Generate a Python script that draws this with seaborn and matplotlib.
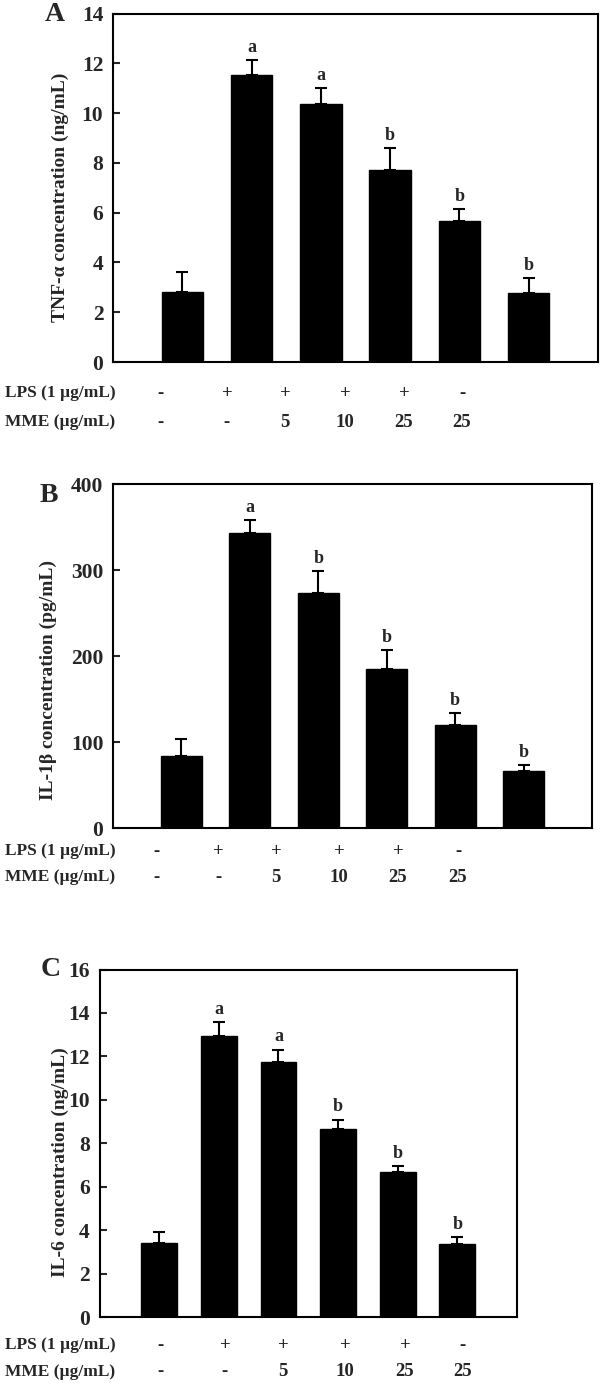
import numpy as np
import pandas as pd
import matplotlib
matplotlib.use("Agg")
import matplotlib.pyplot as plt
import seaborn as sns

sns.set_style("white")
plt.rcParams["font.family"] = ["Liberation Serif", "DejaVu Serif"]
plt.rcParams["font.weight"] = "bold"

# groups (shared by all three panels)
groups = ["G1", "G2", "G3", "G4", "G5", "G6"]
lps_row = ["-", "+", "+", "+", "+", "-"]
mme_row = ["-", "-", "5", "10", "25", "25"]

# panel A: TNF-alpha (ng/mL)
tnf_mean = [2.82, 11.54, 10.37, 7.71, 5.66, 2.76]
tnf_err = [0.78, 0.59, 0.65, 0.90, 0.47, 0.62]
tnf_sig = ["", "a", "a", "b", "b", "b"]

# panel B: IL-1beta (pg/mL)
il1b_mean = [84.4, 343, 273, 185, 120, 66.6]
il1b_err = [19.4, 15.5, 26, 22, 13.6, 7]
il1b_sig = ["", "a", "b", "b", "b", "b"]

# panel C: IL-6 (ng/mL)
il6_mean = [3.41, 12.94, 11.74, 8.68, 6.70, 3.38]
il6_err = [0.50, 0.66, 0.58, 0.42, 0.25, 0.32]
il6_sig = ["", "a", "a", "b", "b", "b"]

W, H = 600, 1395
fig = plt.figure(figsize=(W / 100, H / 100), dpi=100)


def px_axes(left, top, right, bottom):
    return fig.add_axes([left / W, 1 - bottom / H, (right - left) / W, (bottom - top) / H])


def ftext(xpx, ypx, s, **kw):
    return fig.text(xpx / W, 1 - ypx / H, s, fontweight="bold", **kw)


panels = [
    dict(box=(113, 13.5, 598, 362), mean=tnf_mean, err=tnf_err, sig=tnf_sig,
         ymax=14, step=2, ylabel="TNF-α concentration (ng/mL)", letter="A",
         letter_xy=(55, 14.5), ylab_xy=(60, 197.5), rows_y=(393, 422),
         cols_x=[161, 227, 285, 345, 404, 462]),
    dict(box=(113, 484, 592, 828.3), mean=il1b_mean, err=il1b_err, sig=il1b_sig,
         ymax=400, step=100, ylabel="IL-1β concentration (pg/mL)", letter="B",
         letter_xy=(48.5, 495), ylab_xy=(48.5, 679.5), rows_y=(851, 877),
         cols_x=[157, 218, 276, 339, 398, 458]),
    dict(box=(99.5, 969.5, 517, 1317.4), mean=il6_mean, err=il6_err, sig=il6_sig,
         ymax=16, step=2, ylabel="IL-6 concentration (ng/mL)", letter="C",
         letter_xy=(51, 970), ylab_xy=(60.5, 1162.5), rows_y=(1345, 1372),
         cols_x=[161, 225, 283, 345, 405, 463]),
]

for p in panels:
    ax = px_axes(*p["box"])
    df = pd.DataFrame({"group": groups, "value": p["mean"]})
    sns.barplot(data=df, x="group", y="value", order=groups, color="black",
                width=0.6, errorbar=None, ax=ax, saturation=1)
    for patch in ax.patches:
        patch.set_edgecolor("black")
    xs = np.arange(len(groups))
    ax.errorbar(xs, p["mean"], yerr=[np.zeros(len(groups)), p["err"]], fmt="none",
                ecolor="black", elinewidth=1.5, capsize=4, capthick=1.5)
    for x, m, e, s in zip(xs, p["mean"], p["err"], p["sig"]):
        if s:
            ax.annotate(s, (x, m + e), xytext=(0, 3), textcoords="offset points",
                        ha="center", va="bottom", fontsize=13, fontweight="bold")
    ax.set_xlim(-1, 6)
    ax.set_ylim(0, p["ymax"])
    ax.set_yticks(np.arange(0, p["ymax"] + p["step"] / 2, p["step"]))
    ax.set_xticks([])
    ax.set_xlabel("")
    ax.set_ylabel("")
    ax.tick_params(axis="y", direction="in", length=5, width=1.5, pad=7,
                   labelsize=15.5, left=True)
    for lab in ax.get_yticklabels():
        lab.set_fontweight("bold")
    for sp in ax.spines.values():
        sp.set_visible(True)
        sp.set_color("black")
        sp.set_linewidth(1.5)

    # treatment rows under each panel
    for name, row, ypx in zip(["LPS (1 µg/mL)", "MME (µg/mL)"], [lps_row, mme_row], p["rows_y"]):
        ftext(5, ypx, name, ha="left", va="center", fontsize=12.5)
        for xpx, t in zip(p["cols_x"], row):
            ftext(xpx, ypx, t, ha="center", va="center", fontsize=13.5)
    ftext(*p["letter_xy"], p["letter"], ha="center", va="center", fontsize=20)
    ftext(*p["ylab_xy"], p["ylabel"], rotation=90, ha="center", va="center", fontsize=14)

fig.savefig("out.png", dpi=100, facecolor="white")
